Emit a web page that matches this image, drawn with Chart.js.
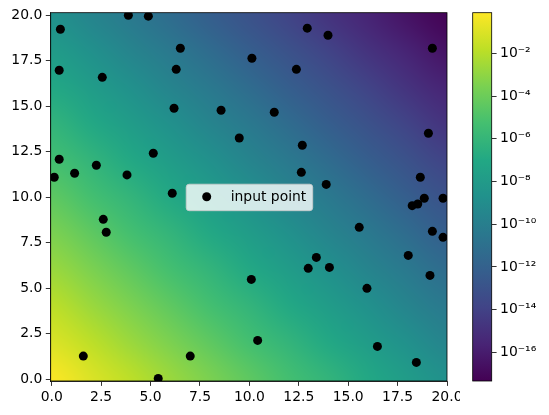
<!DOCTYPE html>
<html>
<head>
<meta charset="utf-8">
<script src="https://cdn.jsdelivr.net/npm/chart.js@4"></script>
<style>
  body { margin: 0; background: #fff; }
  #wrap { position: relative; width: 549px; height: 415px; }
  #main { position: absolute; left: 0; top: 0; }
  #cbar { position: absolute; left: 460px; top: 0; }
</style>
</head>
<body>
<div id="wrap">
  <canvas id="main" width="460" height="415"></canvas>
  <canvas id="cbar" width="89" height="415"></canvas>
</div>
<script>
// ====== Điểm đầu vào (x, y) ======
const pointX = [0.13, 0.44, 0.38, 0.38, 1.16, 2.26, 2.56, 3.81, 3.88, 4.89,
                5.14, 6.10, 6.19, 6.30, 6.51, 8.57, 9.49, 10.13, 12.93, 13.98,
                12.38, 11.26, 12.68, 12.63, 13.89, 19.26, 19.06, 18.65, 18.85, 19.80,
                18.24, 18.52, 2.61, 2.76, 1.60, 7.01, 5.39, 10.10, 10.42, 12.98,
                13.39, 14.05, 15.56, 15.95, 16.48, 18.04, 18.45, 19.14, 19.26, 19.80];
const pointY = [11.10, 19.23, 16.98, 12.09, 11.32, 11.76, 16.59, 11.23, 20.00, 19.95,
                12.42, 10.22, 14.89, 17.03, 18.19, 14.78, 13.26, 17.64, 19.29, 18.90,
                17.03, 14.67, 12.86, 11.37, 10.71, 18.19, 13.52, 11.10, 9.95, 9.95,
                9.54, 9.63, 8.79, 8.08, 1.28, 1.28, 0.05, 5.49, 2.14, 6.10,
                6.70, 6.15, 8.35, 5.00, 1.81, 6.81, 0.93, 5.71, 8.13, 7.80];

// ====== Lưới nền: log10 của giá trị, hàng đầu là y = 0 ======
const gridX = [0, 2, 4, 6, 8, 10, 12, 14, 16, 18, 20];
const gridY = [0, 2, 4, 6, 8, 10, 12, 14, 16, 18, 20];
const logGrid = [
  [-0.1, -1.0, -1.8, -2.7, -3.5, -4.4, -5.3, -6.1, -7.0, -7.9, -8.7],
  [-1.0, -1.8, -2.7, -3.5, -4.4, -5.3, -6.1, -7.0, -7.9, -8.7, -9.6],
  [-1.8, -2.7, -3.5, -4.4, -5.3, -6.1, -7.0, -7.9, -8.7, -9.6, -10.4],
  [-2.7, -3.5, -4.4, -5.3, -6.1, -7.0, -7.9, -8.7, -9.6, -10.4, -11.3],
  [-3.5, -4.4, -5.3, -6.1, -7.0, -7.9, -8.7, -9.6, -10.4, -11.3, -12.2],
  [-4.4, -5.3, -6.1, -7.0, -7.9, -8.7, -9.6, -10.4, -11.3, -12.2, -13.0],
  [-5.3, -6.1, -7.0, -7.9, -8.7, -9.6, -10.4, -11.3, -12.2, -13.0, -13.9],
  [-6.1, -7.0, -7.9, -8.7, -9.6, -10.4, -11.3, -12.2, -13.0, -13.9, -14.8],
  [-7.0, -7.9, -8.7, -9.6, -10.4, -11.3, -12.2, -13.0, -13.9, -14.8, -15.6],
  [-7.9, -8.7, -9.6, -10.4, -11.3, -12.2, -13.0, -13.9, -14.8, -15.6, -16.5],
  [-8.7, -9.6, -10.4, -11.3, -12.2, -13.0, -13.9, -14.8, -15.6, -16.5, -17.3]
];

// ====== Trục ======
const axisTicks = [0, 2.5, 5, 7.5, 10, 12.5, 15, 17.5, 20];
const cbTicks = [-16, -14, -12, -10, -8, -6, -4, -2];
const logMin = -17.34, logMax = -0.1;

const FONT = { family: "'DejaVu Sans', sans-serif", size: 13.9 };
const viridis = ['#440154', '#482475', '#414487', '#355f8d', '#2a788e', '#21918c',
                 '#22a884', '#44bf70', '#7ad151', '#bddf26', '#fde725'];

function hexRgb(h) {
  return [parseInt(h.slice(1, 3), 16), parseInt(h.slice(3, 5), 16), parseInt(h.slice(5, 7), 16)];
}
function viridisAt(t) {
  t = Math.min(1, Math.max(0, t));
  const p = t * (viridis.length - 1);
  const i = Math.min(viridis.length - 2, Math.floor(p));
  const f = p - i;
  const a = hexRgb(viridis[i]), b = hexRgb(viridis[i + 1]);
  return a.map((v, k) => Math.round(v + (b[k] - v) * f));
}

// ====== Vẽ nền màu ======
const heatmapPlugin = {
  id: "heatmap",
  beforeDatasetsDraw(chart) {
    const { ctx, chartArea: a, scales: { x, y } } = chart;
    const nx = gridX.length, ny = gridY.length;
    const off = document.createElement("canvas");
    off.width = nx; off.height = ny;
    const octx = off.getContext("2d");
    const img = octx.createImageData(nx, ny);
    for (let j = 0; j < ny; j++) {
      for (let i = 0; i < nx; i++) {
        const c = viridisAt((logGrid[j][i] - logMin) / (logMax - logMin));
        const idx = ((ny - 1 - j) * nx + i) * 4;
        img.data[idx] = c[0]; img.data[idx + 1] = c[1]; img.data[idx + 2] = c[2]; img.data[idx + 3] = 255;
      }
    }
    octx.putImageData(img, 0, 0);
    const half = (gridX[1] - gridX[0]) / 2;
    const x0 = x.getPixelForValue(gridX[0] - half), x1 = x.getPixelForValue(gridX[nx - 1] + half);
    const y0 = y.getPixelForValue(gridY[ny - 1] + half), y1 = y.getPixelForValue(gridY[0] - half);
    ctx.save();
    ctx.beginPath();
    ctx.rect(a.left, a.top, a.right - a.left, a.bottom - a.top);
    ctx.clip();
    ctx.imageSmoothingEnabled = true;
    ctx.imageSmoothingQuality = "high";
    ctx.drawImage(off, x0, y0, x1 - x0, y1 - y0);
    ctx.restore();
  },
  afterDraw(chart) {
    const { ctx, chartArea: a } = chart;
    ctx.save();
    ctx.strokeStyle = "#000";
    ctx.lineWidth = 0.8;
    ctx.strokeRect(a.left, a.top, a.right - a.left, a.bottom - a.top);
    // legend
    const bx = a.left + 135.5, by = a.top + 171.5, bw = 126.5, bh = 26.5, r = 3;
    ctx.beginPath();
    ctx.roundRect(bx, by, bw, bh, r);
    ctx.fillStyle = "rgba(255,255,255,0.8)";
    ctx.fill();
    ctx.strokeStyle = "rgba(204,204,204,0.8)";
    ctx.lineWidth = 1;
    ctx.stroke();
    ctx.beginPath();
    ctx.arc(bx + 20.5, by + 12.5, 4.5, 0, Math.PI * 2);
    ctx.fillStyle = "#000";
    ctx.fill();
    ctx.font = `${FONT.size}px ${FONT.family}`;
    ctx.textBaseline = "middle";
    ctx.textAlign = "left";
    ctx.fillText(chart.data.datasets[0].label, bx + 44.5, by + 13);
    ctx.restore();
  }
};

const tickOpts = (cb) => ({
  color: "#000", font: FONT, padding: 3.5, maxRotation: 0, autoSkip: false,
  callback: cb
});
const gridOpts = { display: true, drawOnChartArea: false, drawTicks: true, tickLength: 4.9, color: "#000", lineWidth: 0.8 };

new Chart(document.getElementById("main"), {
  type: "scatter",
  data: {
    datasets: [{
      label: "input point",
      data: pointX.map((v, i) => ({ x: v, y: pointY[i] })),
      backgroundColor: "#000",
      borderWidth: 0,
      pointRadius: 4.5,
      pointHoverRadius: 4.5
    }]
  },
  options: {
    responsive: false,
    devicePixelRatio: 1,
    animation: false,
    layout: { padding: { left: 0, top: 12.7, right: 13, bottom: 0 } },
    plugins: { legend: { display: false }, tooltip: { enabled: false } },
    scales: {
      x: {
        type: "linear", min: -0.05, max: 20,
        afterBuildTicks: s => { s.ticks = axisTicks.map(v => ({ value: v })); },
        afterFit: s => { s.height = 34; s.paddingLeft = 0; s.paddingRight = 0; },
        ticks: tickOpts(v => v.toFixed(1)),
        grid: gridOpts,
        border: { display: true, color: "#000", width: 0.8 }
      },
      y: {
        type: "linear", min: -0.09, max: 20.14,
        afterBuildTicks: s => { s.ticks = axisTicks.map(v => ({ value: v })); },
        afterFit: s => { s.width = 50.7; s.paddingTop = 0; s.paddingBottom = 0; },
        ticks: tickOpts(v => v.toFixed(1)),
        grid: gridOpts,
        border: { display: true, color: "#000", width: 0.8 }
      }
    }
  },
  plugins: [heatmapPlugin]
});

// ====== Thanh màu ======
const sup = { "0": "⁰", "1": "¹", "2": "²", "3": "³", "4": "⁴", "5": "⁵", "6": "⁶", "7": "⁷", "8": "⁸", "9": "⁹", "-": "⁻" };
const colorbarPlugin = {
  id: "colorbar",
  beforeDatasetsDraw(chart) {
    const { ctx, chartArea: a, scales: { y } } = chart;
    const top = y.getPixelForValue(logMax), bot = y.getPixelForValue(logMin);
    const g = ctx.createLinearGradient(0, bot, 0, top);
    viridis.forEach((c, i) => g.addColorStop(i / (viridis.length - 1), c));
    ctx.save();
    ctx.fillStyle = g;
    ctx.fillRect(a.left, top, a.right - a.left, bot - top);
    ctx.strokeStyle = "#000";
    ctx.lineWidth = 0.8;
    ctx.strokeRect(a.left, top, a.right - a.left, bot - top);
    ctx.restore();
  }
};

new Chart(document.getElementById("cbar"), {
  type: "scatter",
  data: { datasets: [] },
  options: {
    responsive: false,
    devicePixelRatio: 1,
    animation: false,
    layout: { padding: { left: 12.7, top: 12.7, right: 0, bottom: 34 } },
    plugins: { legend: { display: false }, tooltip: { enabled: false } },
    scales: {
      x: { display: false, min: 0, max: 1 },
      y: {
        type: "linear", position: "right", min: logMin, max: logMax,
        afterBuildTicks: s => { s.ticks = cbTicks.map(v => ({ value: v })); },
        afterFit: s => { s.width = 57.3; s.paddingTop = 0; s.paddingBottom = 0; },
        ticks: tickOpts(v => "10" + String(v).split("").map(ch => sup[ch]).join("")),
        grid: gridOpts,
        border: { display: false }
      }
    }
  },
  plugins: [colorbarPlugin]
});
</script>
</body>
</html>
